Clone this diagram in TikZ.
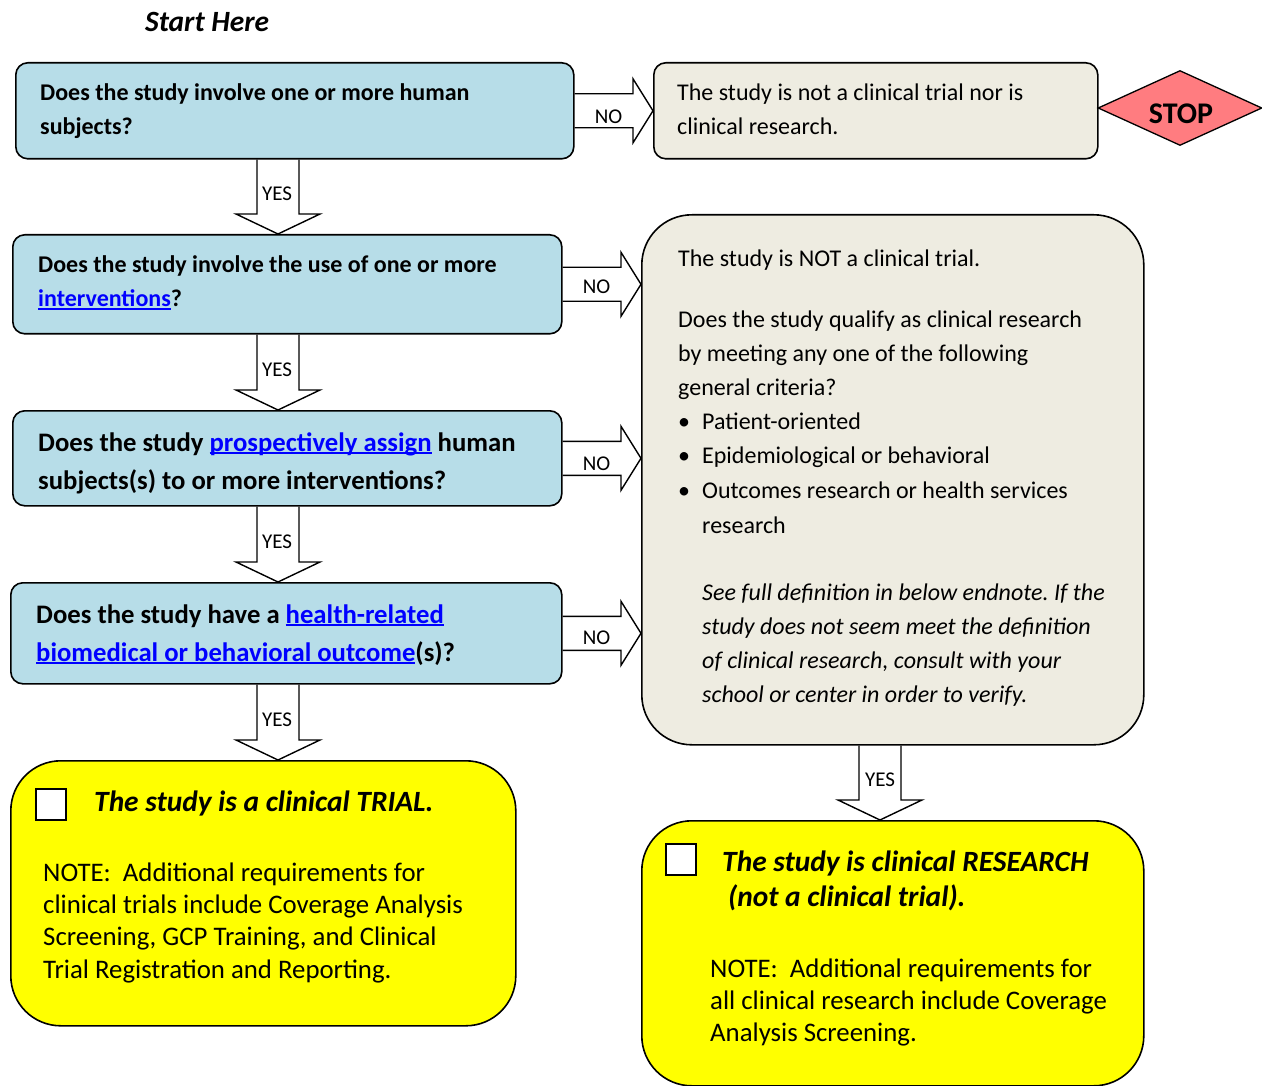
\documentclass[tikz,border=0pt]{standalone}
\usepackage{fontspec}
\setmainfont{Carlito}
\usetikzlibrary{calc,shapes.geometric,backgrounds}
\definecolor{boxblue}{HTML}{B7DDE8}
\definecolor{boxgray}{HTML}{EEECE1}
\definecolor{stopred}{HTML}{FF7C80}
\definecolor{linkblue}{HTML}{0000FF}
\definecolor{yel}{HTML}{FFFF00}
\newcommand\lnk[1]{\leavevmode{\color{linkblue}\sbox0{#1}\rlap{\rule[-0.13em]{\wd0}{0.075em}}\usebox0}}
\newcommand\tb[1]{\parbox[t]{600pt}{\raggedright #1}}
\newcommand\blkdown[2]{\draw[blkarrow] let \p1=(#1), \p2=(#2) in
  (\x1-21pt,\y1) -- (\x1-21pt,\y2+20pt) -- (\x1-42pt,\y2+20pt) -- (\x1,\y2)
  -- (\x1+42pt,\y2+20pt) -- (\x1+21pt,\y2+20pt) -- (\x1+21pt,\y1);}
\newcommand\blkright[2]{\draw[blkarrow] let \p1=(#1), \p2=(#2) in
  (\x1,\y1+17pt) -- (\x2-20pt,\y1+17pt) -- (\x2-20pt,\y1+32pt) -- (\x2,\y1)
  -- (\x2-20pt,\y1-32pt) -- (\x2-20pt,\y1-17pt) -- (\x1,\y1-17pt);}
\begin{document}
\frenchspacing
\begin{tikzpicture}[x=1pt,y=-1pt,
  box/.style={draw=black, line width=1.6pt, rounded corners=12pt, anchor=north west, inner sep=0pt},
  bluebox/.style={box, fill=boxblue},
  graybox/.style={box, fill=boxgray},
  yelbox/.style={box, fill=yel, rounded corners=50pt},
  txt/.style={anchor=base west, inner sep=0pt},
  fa/.style={font=\bfseries\fontsize{24}{34}\selectfont},
  fb/.style={font=\bfseries\fontsize{26.7}{38}\selectfont},
  fg/.style={font=\fontsize{24}{34}\selectfont},
  fgi/.style={font=\itshape\fontsize{24}{34}\selectfont},
  fy/.style={font=\fontsize{26.8}{32.4}\selectfont},
  fyt/.style={font=\bfseries\itshape\fontsize{29.4}{35}\selectfont},
  lbl/.style={inner sep=0pt, font=\fontsize{21}{22}\selectfont},
  blkarrow/.style={draw=black, fill=white, line width=1.4pt, miter limit=10},
  chk/.style={draw=black, fill=white, line width=1.5pt, minimum width=30pt, minimum height=31pt, anchor=north west, inner sep=0pt}
]
\path[use as bounding box] (0,0) rectangle (1262,1086);

% boxes
\node[bluebox, minimum width=558pt, minimum height=96pt] (b1) at (15,62) {};
\node[bluebox, minimum width=549pt, minimum height=99pt] (b2) at (12,234) {};
\node[bluebox, minimum width=549pt, minimum height=95pt] (b3) at (12,410) {};
\node[bluebox, minimum width=551pt, minimum height=101pt] (b4) at (10,582) {};
\node[graybox, minimum width=444pt, minimum height=96pt] (g1) at (653,62) {};
\node[graybox, rounded corners=50pt, minimum width=502pt, minimum height=530pt] (g2) at (641,214) {};
\node[yelbox, minimum width=505pt, minimum height=265pt] (y1) at (10,760) {};
\node[yelbox, minimum width=502pt, minimum height=265pt] (y2) at (641,820) {};
\node[diamond, draw=black, line width=1.3pt, fill=stopred, minimum width=164pt, minimum height=75pt,
  inner sep=0pt] (stop) at (1180,108) {};
\node[inner sep=0pt, font=\bfseries\fontsize{30}{30}\selectfont] (stoptxt) at ($(stop.center)+(1,6)$) {STOP};

% arrows
\coordinate (ax) at (278,0);
\coordinate (bx) at (880,0);
\begin{scope}[on background layer]
\blkright{b1.east}{b1.east -| g1.west}
\blkright{b2.east}{b2.east -| g2.west}
\blkright{b3.east}{b3.east -| g2.west}
\blkright{b4.east}{b4.east -| g2.west}
\blkdown{b1.south -| ax}{b2.north -| ax}
\blkdown{b2.south -| ax}{b3.north -| ax}
\blkdown{b3.south -| ax}{b4.north -| ax}
\blkdown{b4.south -| ax}{y1.north -| ax}
\blkdown{g2.south -| bx}{y2.north -| bx}
\end{scope}
\node[lbl] (no1) at ($(b1.east)+(34,6)$) {NO};
\node[lbl] (no2) at ($(b2.east)+(34,2)$) {NO};
\node[lbl] (no3) at ($(b3.east)+(34,5)$) {NO};
\node[lbl] (no4) at ($(b4.east)+(34,4)$) {NO};
\node[lbl] (yes1) at ($(b1.south -| ax)+(-1,34)$) {YES};
\node[lbl] (yes2) at ($(b2.south -| ax)+(-1,35)$) {YES};
\node[lbl] (yes3) at ($(b3.south -| ax)+(-1,35)$) {YES};
\node[lbl] (yes4) at ($(b4.south -| ax)+(-1,35)$) {YES};
\node[lbl] (yes5) at ($(g2.south -| bx)+(0,34)$) {YES};

% texts
\node[txt, font=\bfseries\itshape\fontsize{29.4}{30}\selectfont] (start) at (145,32) {Start Here};
\node[txt, fa] (t1) at (40,101) {\tb{Does the study involve one or more human\\subjects?}};
\node[txt, fa] (t2) at (38,273) {\tb{Does the study involve the use of one or more\\\lnk{interventions}?}};
\node[txt, fb] (t3) at (38,451) {\tb{Does the study \lnk{prospectively assign} human\\subjects(s) to or more interventions?}};
\node[txt, fb] (t4) at (36,623) {\tb{Does the study have a \lnk{health-related}\\\lnk{biomedical or behavioral outcome}(s)?}};
\node[txt, font=\fontsize{24}{33.5}\selectfont] (tg1) at (677,101) {\tb{The study is not a clinical trial nor is\\clinical research.}};
\node[txt, fg] (tg2) at (678,267) {The study is NOT a clinical trial.};
\node[txt, fg] (tg3) at (678,327) {\tb{Does the study qualify as clinical research\\by meeting any one of the following\\general criteria?}};
\node[txt, font=\fontsize{24}{34.7}\selectfont] (tg4) at (678,429) {\tb{\makebox[24pt][l]{•}Patient-oriented\\\makebox[24pt][l]{•}Epidemiological or behavioral\\\makebox[24pt][l]{•}Outcomes research or health services\\\hspace*{24pt}research}};
\node[txt, fgi] (tg5) at (702,600) {\tb{See full definition in below endnote. If the\\study does not seem meet the definition\\of clinical research, consult with your\\school or center in order to verify.}};

\node[chk] (cb1) at (35,788) {};
\node[txt, fyt] (ty1) at (94,811) {The study is a clinical TRIAL.};
\node[txt, fy] (ty2) at (43,881) {\tb{NOTE:\ \ Additional requirements for\\clinical trials include Coverage Analysis\\Screening, GCP Training, and Clinical\\Trial Registration and Reporting.}};
\node[chk] (cb2) at (665,843) {};
\node[txt, fyt] (ty3) at (722,871) {\tb{The study is clinical RESEARCH\\\hspace*{6pt}(not a clinical trial).}};
\node[txt, fy] (ty4) at (710,977) {\tb{NOTE:\ \ Additional requirements for\\all clinical research include Coverage\\Analysis Screening.}};
\end{tikzpicture}
\end{document}
